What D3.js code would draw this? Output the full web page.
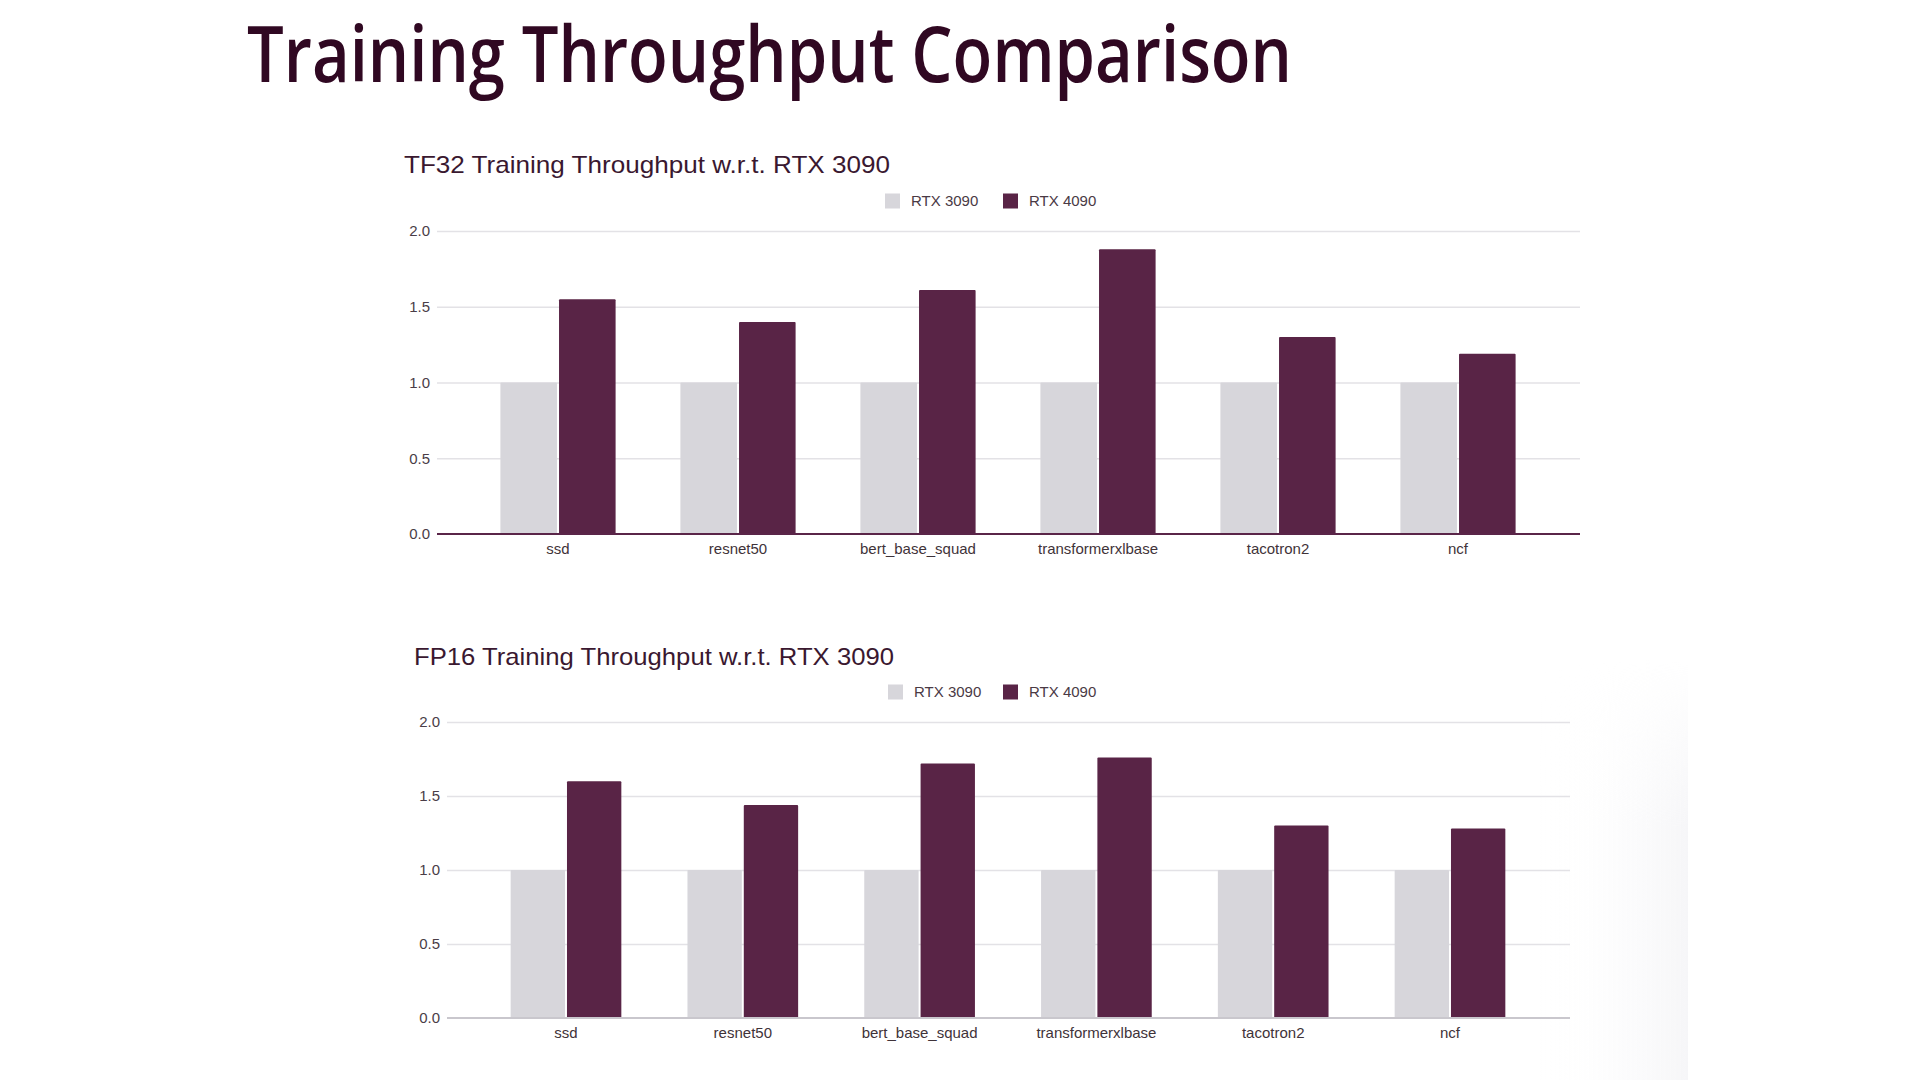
<!DOCTYPE html>
<html>
<head>
<meta charset="utf-8">
<script src="https://cdn.jsdelivr.net/npm/d3@7"></script>
<style>
  html, body { margin: 0; padding: 0; background: #ffffff; }
  svg { display: block; }
</style>
</head>
<body>
<svg id="chart" width="1920" height="1080"></svg>
<script>
// ---- Data ----
const categories = ["ssd", "resnet50", "bert_base_squad", "transformerxlbase", "tacotron2", "ncf"];
const seriesNames = ["RTX 3090", "RTX 4090"];
const tf32_rtx3090 = [1.0, 1.0, 1.0, 1.0, 1.0, 1.0];
const tf32_rtx4090 = [1.55, 1.40, 1.61, 1.88, 1.30, 1.19];
const fp16_rtx3090 = [1.0, 1.0, 1.0, 1.0, 1.0, 1.0];
const fp16_rtx4090 = [1.60, 1.44, 1.72, 1.76, 1.30, 1.28];
const yTicks = [0.0, 0.5, 1.0, 1.5, 2.0];
const mainTitle = "Training Throughput Comparison";
const tf32Title = "TF32 Training Throughput w.r.t. RTX 3090";
const fp16Title = "FP16 Training Throughput w.r.t. RTX 3090";

const colors = { "RTX 3090": "#d7d6db", "RTX 4090": "#592446" };
const chartFont = "'Liberation Sans', Arial, sans-serif";

const svg = d3.select("#chart");

// faint shadow on the right
const defs = svg.append("defs");
const grad = defs.append("linearGradient").attr("id", "shade").attr("x1", "0").attr("x2", "1").attr("y1", "0").attr("y2", "0");
grad.append("stop").attr("offset", "0%").attr("stop-color", "#ffffff").attr("stop-opacity", 0);
grad.append("stop").attr("offset", "100%").attr("stop-color", "#f2f2f5").attr("stop-opacity", 0.7);
const grad2 = defs.append("linearGradient").attr("id", "shadeV").attr("x1", "0").attr("x2", "0").attr("y1", "0").attr("y2", "1");
grad2.append("stop").attr("offset", "0%").attr("stop-color", "#fff").attr("stop-opacity", 0);
grad2.append("stop").attr("offset", "40%").attr("stop-color", "#fff").attr("stop-opacity", 1);
grad2.append("stop").attr("offset", "100%").attr("stop-color", "#fff").attr("stop-opacity", 1);
const mask = defs.append("mask").attr("id", "shadeMask");
mask.append("rect").attr("x", 1540).attr("y", 660).attr("width", 150).attr("height", 420).attr("fill", "url(#shadeV)");
svg.append("rect").attr("x", 1540).attr("y", 660).attr("width", 148).attr("height", 420)
  .attr("fill", "url(#shade)").attr("mask", "url(#shadeMask)");

// Main title
svg.append("text")
  .attr("x", 247).attr("y", 82)
  .attr("font-family", "'Open Sans', 'Noto Sans', sans-serif")
  .attr("font-weight", 600)
  .attr("font-size", 77)
  .attr("fill", "#300822")
  .attr("textLength", 1045).attr("lengthAdjust", "spacingAndGlyphs")
  .text(mainTitle);

function drawChart(cfg) {
  const g = svg.append("g");
  const series = [cfg.s1, cfg.s2];

  // subtitle
  g.append("text")
    .attr("x", cfg.titleX).attr("y", cfg.titleY)
    .attr("font-family", chartFont)
    .attr("font-size", 24)
    .attr("fill", "#3a1830")
    .attr("textLength", cfg.titleW).attr("lengthAdjust", "spacingAndGlyphs")
    .text(cfg.title);

  // legend
  const leg = g.append("g").attr("transform", `translate(${cfg.legendX},${cfg.legendY})`);
  const legOffsets = [0, cfg.legendGap];
  seriesNames.forEach((s, i) => {
    const li = leg.append("g").attr("transform", `translate(${legOffsets[i]},0)`);
    li.append("rect").attr("x", 0).attr("y", -7.5).attr("width", 15).attr("height", 15).attr("fill", colors[s]);
    li.append("text").attr("x", 26).attr("y", 0).attr("dy", "0.35em")
      .attr("font-family", chartFont)
      .attr("font-size", 15).attr("fill", "#4a3a45").text(s);
  });

  const y = d3.scaleLinear().domain([0, 2]).range([cfg.y0, cfg.y2]);
  const x0 = d3.scaleBand().domain(categories).range([cfg.bandL, cfg.bandR]).paddingInner(0).paddingOuter(0);
  const x1 = d3.scaleBand().domain(seriesNames)
    .range([x0.bandwidth() * cfg.gIn, x0.bandwidth() * (1 - cfg.gIn)])
    .paddingInner(0.035).paddingOuter(0);

  // gridlines + y labels
  const yAxis = d3.axisLeft(y).tickValues(yTicks).tickFormat(d3.format(".1f"))
    .tickSize(-(cfg.plotR - cfg.plotL)).tickPadding(cfg.tickPad);
  const ya = g.append("g").attr("transform", `translate(${cfg.plotL},0)`).call(yAxis);
  ya.select(".domain").remove();
  ya.selectAll("line").attr("stroke", "#e3e2e6").attr("stroke-width", 1.5);
  ya.selectAll("text").attr("font-family", chartFont)
    .attr("font-size", 15).attr("fill", "#4a3d47");
  ya.selectAll(".tick").filter(d => d === 0).select("line").remove();

  // bars
  const groups = g.append("g").selectAll("g").data(categories).join("g")
    .attr("transform", d => `translate(${x0(d)},0)`);
  groups.selectAll("rect")
    .data((d, i) => seriesNames.map((s, k) => ({ s, v: series[k][i] })))
    .join("rect")
    .attr("x", d => x1(d.s))
    .attr("width", x1.bandwidth())
    .attr("y", d => y(d.v))
    .attr("height", d => y(0) - y(d.v))
    .attr("rx", 1)
    .attr("fill", d => colors[d.s]);

  // baseline
  g.append("line")
    .attr("x1", cfg.plotL).attr("x2", cfg.plotR)
    .attr("y1", y(0)).attr("y2", y(0))
    .attr("stroke", cfg.baseColor).attr("stroke-width", 2);

  // x axis labels
  const xAxis = d3.axisBottom(x0).tickSize(0).tickPadding(cfg.xPad);
  const xa = g.append("g").attr("transform", `translate(0,${cfg.y0})`).call(xAxis);
  xa.select(".domain").remove();
  xa.selectAll("text").attr("font-family", chartFont)
    .attr("font-size", 15).attr("fill", "#3f3339");
}

drawChart({
  title: tf32Title, titleX: 404, titleY: 173, titleW: 486,
  legendX: 885, legendY: 201, legendGap: 118,
  s1: tf32_rtx3090, s2: tf32_rtx4090,
  y0: 534, y2: 231, plotL: 437, plotR: 1580,
  bandL: 468, bandR: 1548, gIn: 0.18, tickPad: 7, xPad: 9,
  baseColor: "#5a2548"
});

drawChart({
  title: fp16Title, titleX: 414, titleY: 665, titleW: 480,
  legendX: 888, legendY: 692, legendGap: 115,
  s1: fp16_rtx3090, s2: fp16_rtx4090,
  y0: 1018, y2: 722, plotL: 447, plotR: 1570,
  bandL: 477.6, bandR: 1538.4, gIn: 0.187, tickPad: 7, xPad: 9,
  baseColor: "#c9c7cd"
});
</script>
</body>
</html>
